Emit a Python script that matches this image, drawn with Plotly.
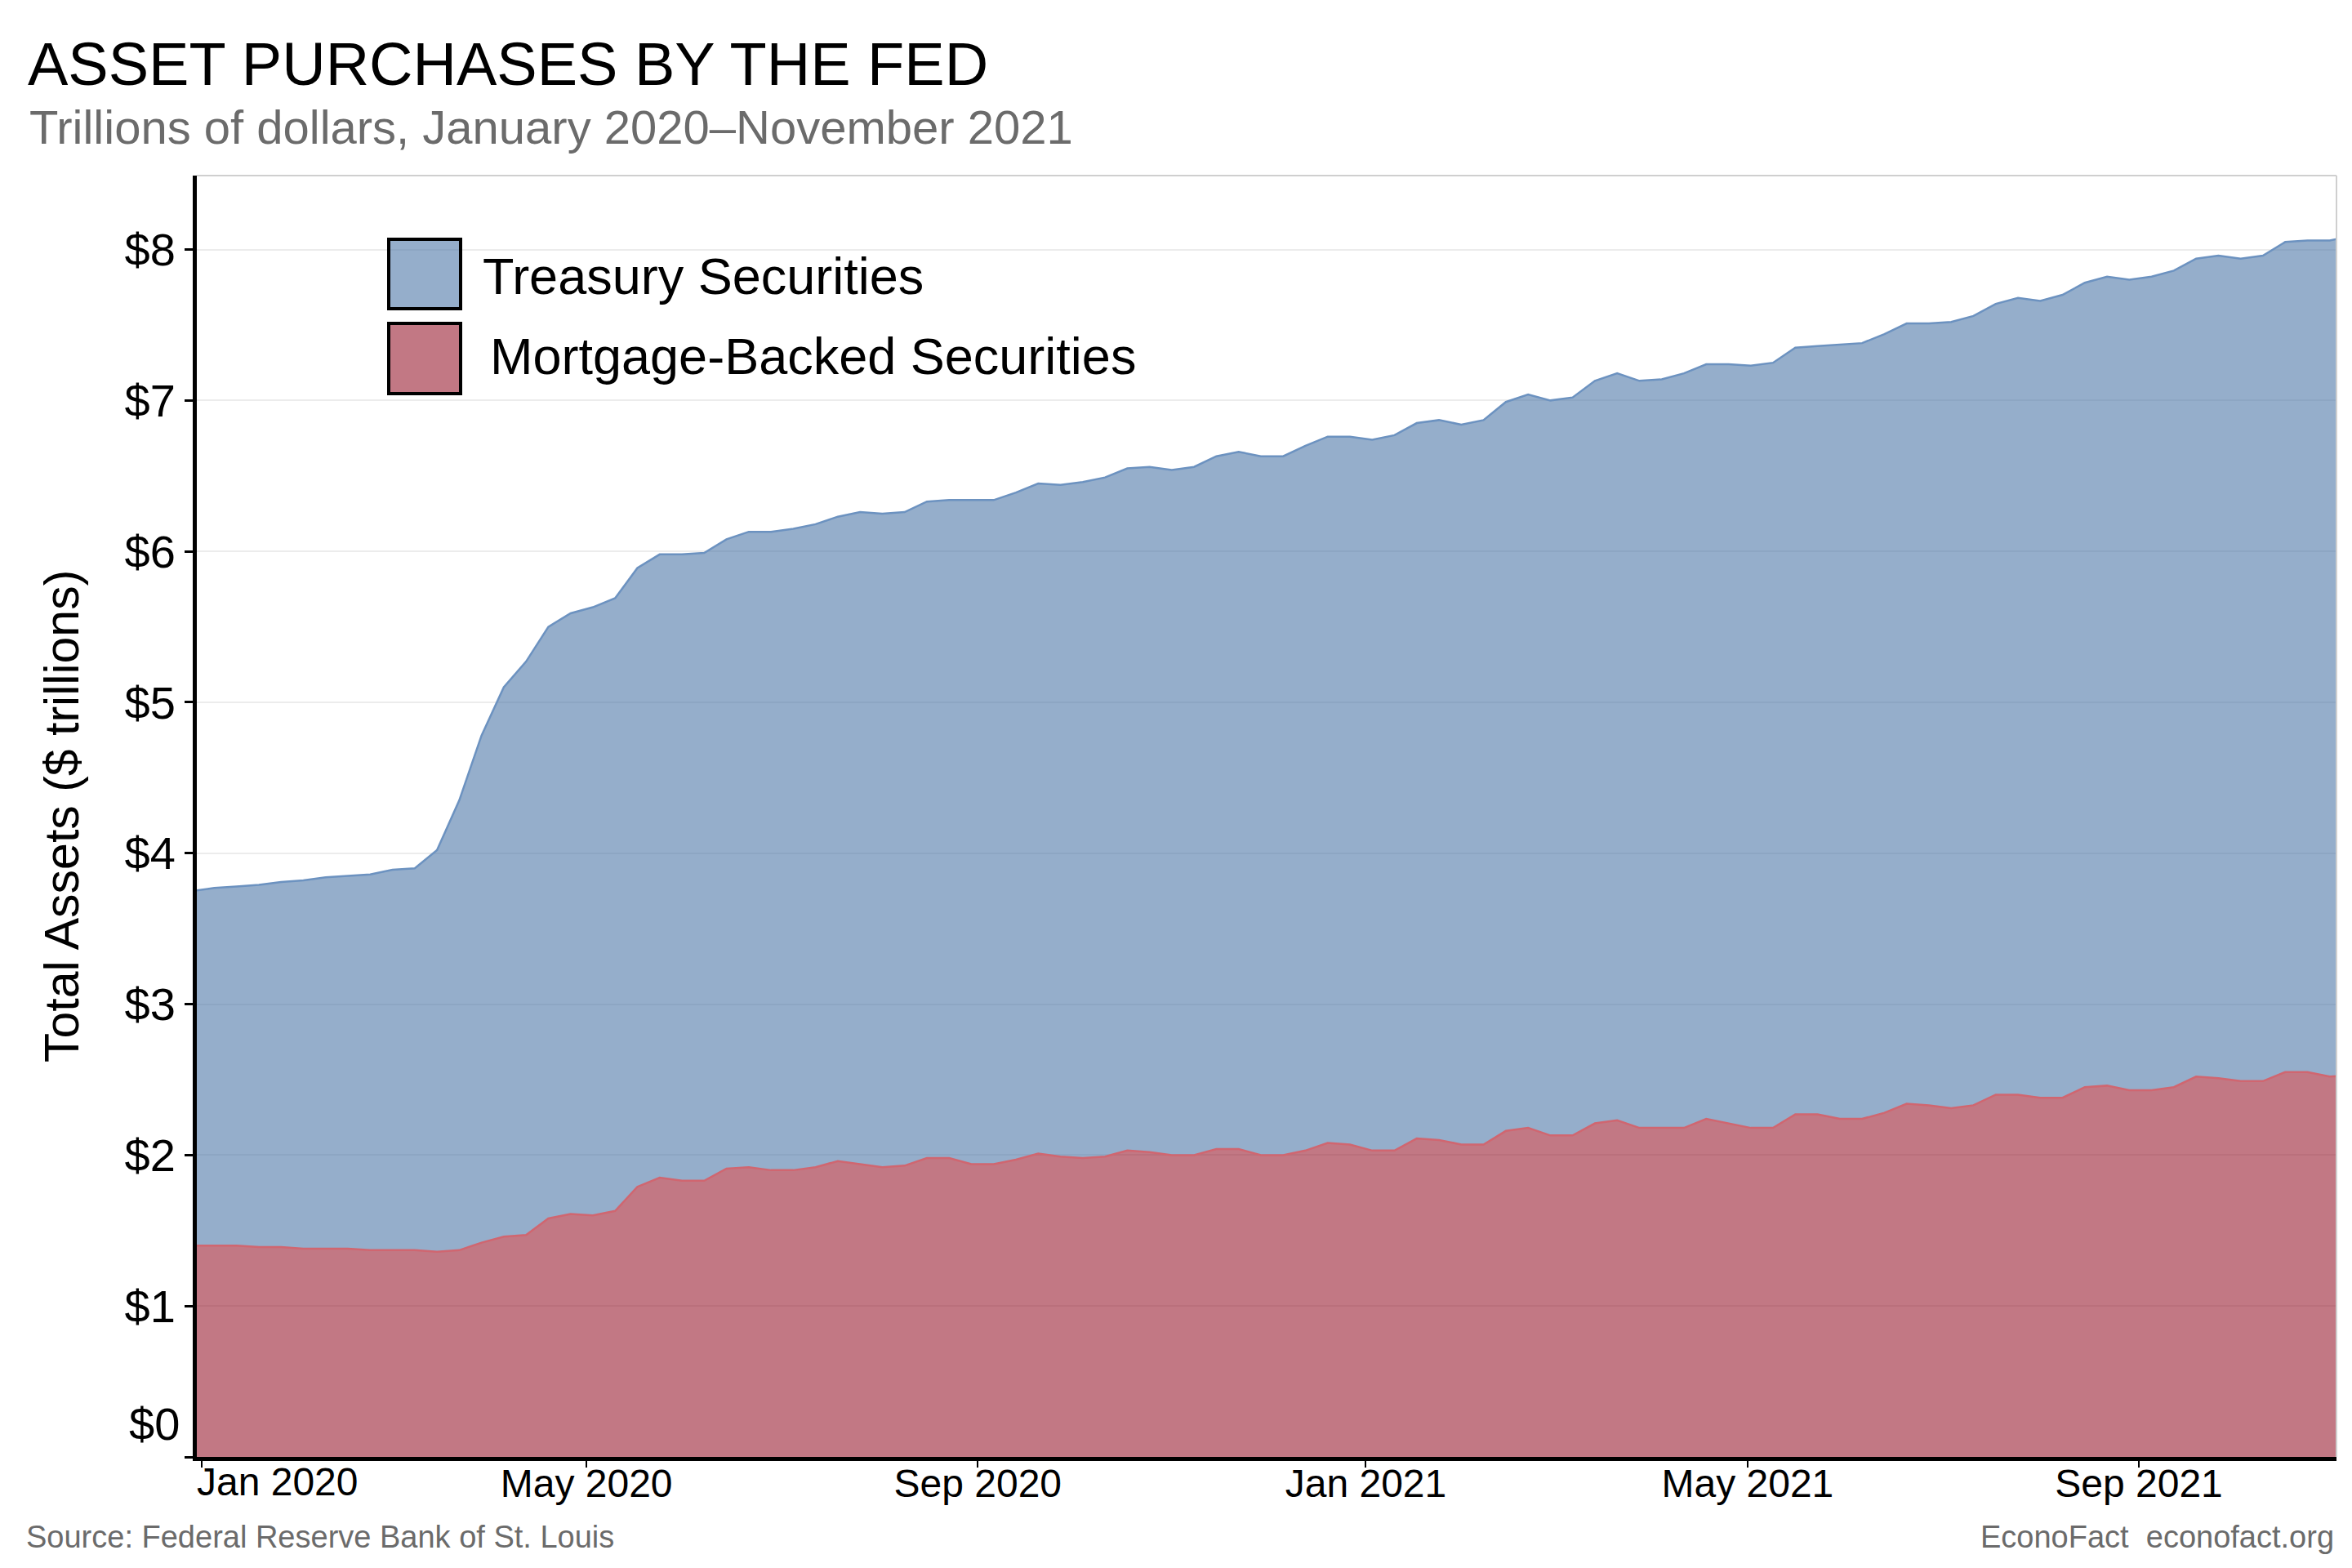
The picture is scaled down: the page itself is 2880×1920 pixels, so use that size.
import pandas as pd
import plotly.graph_objects as go

# weekly observations (first and last fall just outside the plotted window)
weeks = pd.date_range("2019-12-29", periods=98, freq="7D")

# $ trillions
mbs = [
    1.40, 1.40, 1.40, 1.39, 1.39, 1.38, 1.38, 1.38, 1.37, 1.37,
    1.37, 1.36, 1.37, 1.42, 1.46, 1.47, 1.58, 1.61, 1.60, 1.63,
    1.79, 1.85, 1.83, 1.83, 1.91, 1.92, 1.90, 1.90, 1.92, 1.96,
    1.94, 1.92, 1.93, 1.98, 1.98, 1.94, 1.94, 1.97, 2.01, 1.99,
    1.98, 1.99, 2.03, 2.02, 2.00, 2.00, 2.04, 2.04, 2.00, 2.00,
    2.03, 2.08, 2.07, 2.03, 2.03, 2.11, 2.10, 2.07, 2.07, 2.16,
    2.18, 2.13, 2.13, 2.21, 2.23, 2.18, 2.18, 2.18, 2.24, 2.21,
    2.18, 2.18, 2.27, 2.27, 2.24, 2.24, 2.28, 2.34, 2.33, 2.31,
    2.33, 2.40, 2.40, 2.38, 2.38, 2.45, 2.46, 2.43, 2.43, 2.45,
    2.52, 2.51, 2.49, 2.49, 2.55, 2.55, 2.52, 2.53,
]
treasury = [
    2.35, 2.37, 2.38, 2.40, 2.42, 2.44, 2.46, 2.47, 2.49, 2.52,
    2.53, 2.66, 2.98, 3.36, 3.64, 3.80, 3.92, 3.98, 4.03, 4.06,
    4.10, 4.13, 4.15, 4.16, 4.17, 4.21, 4.23, 4.25, 4.26, 4.27,
    4.32, 4.33, 4.33, 4.35, 4.36, 4.40, 4.40, 4.42, 4.44, 4.45,
    4.48, 4.50, 4.52, 4.54, 4.54, 4.56, 4.59, 4.62, 4.63, 4.63,
    4.67, 4.68, 4.69, 4.71, 4.74, 4.74, 4.77, 4.77, 4.80, 4.83,
    4.86, 4.87, 4.89, 4.92, 4.95, 4.95, 4.96, 5.00, 5.00, 5.03,
    5.05, 5.07, 5.08, 5.09, 5.13, 5.14, 5.16, 5.17, 5.18, 5.21,
    5.23, 5.24, 5.28, 5.28, 5.32, 5.33, 5.36, 5.37, 5.39, 5.41,
    5.42, 5.45, 5.45, 5.47, 5.50, 5.51, 5.54, 5.56,
]

y_ticks = [0, 1, 2, 3, 4, 5, 6, 7, 8]
y_tick_text = ["", "$1", "$2", "$3", "$4", "$5", "$6", "$7", "$8"]
x_ticks = ["2020-01-01", "2020-05-01", "2020-09-01", "2021-01-01", "2021-05-01", "2021-09-01"]
x_tick_text = ["", "May 2020", "Sep 2020", "Jan 2021", "May 2021", "Sep 2021"]

FONT = "Liberation Sans, Arial, Helvetica, sans-serif"
BLUE_FILL = "rgba(78,120,168,0.6)"
RED_FILL = "rgba(153,30,50,0.6)"

# plot area in page pixels, used to place the hand-made legend and labels
L, R, T, B = 233, 2853, 207, 1776


def px(x):
    return (x - L) / (R - L)


def py(y):
    return (B - y) / (B - T)


fig = go.Figure()
fig.add_trace(go.Scatter(
    x=weeks, y=mbs, name="Mortgage-Backed Securities", stackgroup="one",
    mode="lines", line=dict(color="rgb(208,102,112)", width=2.5),
    fillcolor=RED_FILL,
))
fig.add_trace(go.Scatter(
    x=weeks, y=treasury, name="Treasury Securities", stackgroup="one",
    mode="lines", line=dict(color="rgb(108,146,192)", width=2.5),
    fillcolor=BLUE_FILL,
))

fig.update_layout(
    width=2880, height=1920, autosize=False,
    margin=dict(l=L, r=2880 - R, t=T, b=1920 - B),
    paper_bgcolor="white", plot_bgcolor="white",
    font=dict(family=FONT, color="black"),
    showlegend=False,
)
fig.update_xaxes(
    type="date", range=["2019-12-30 12:00", "2021-11-02 03:00"],
    tickvals=x_ticks, ticktext=x_tick_text,
    tickfont=dict(size=48, color="black"), ticklabelstandoff=-22,
    showline=True, linecolor="black", linewidth=5,
    ticks="outside", ticklen=8, tickwidth=2, tickcolor="black",
    showgrid=False, zeroline=False,
)
fig.update_yaxes(
    range=[0, 8.49], tickvals=y_ticks, ticktext=y_tick_text,
    tickfont=dict(size=56, color="black"),
    showline=True, linecolor="black", linewidth=5,
    ticks="outside", ticklen=10, tickwidth=3, tickcolor="black",
    showgrid=True, gridcolor="#ececec", gridwidth=2, zeroline=False,
)

# light panel border on top and right
fig.add_shape(type="line", xref="paper", yref="paper", x0=0, x1=1, y0=1, y1=1,
              line=dict(color="#cfcfcf", width=2))
fig.add_shape(type="line", xref="paper", yref="paper", x0=1, x1=1, y0=0, y1=1,
              line=dict(color="#cfcfcf", width=2))

# legend keys
fig.add_shape(type="rect", xref="paper", yref="paper",
              x0=px(468), x1=px(556), y0=py(370), y1=py(285),
              fillcolor=BLUE_FILL, line=dict(color="black", width=4))
fig.add_shape(type="rect", xref="paper", yref="paper",
              x0=px(468), x1=px(556), y0=py(474), y1=py(388),
              fillcolor=RED_FILL, line=dict(color="black", width=4))

annotations = [
    dict(text="Treasury Securities", x=px(581), y=py(330), xanchor="left",
         yanchor="middle", font=dict(size=63, color="black")),
    dict(text="Mortgage-Backed Securities", x=px(590), y=py(428), xanchor="left",
         yanchor="middle", font=dict(size=63, color="black")),
    dict(text="ASSET PURCHASES BY THE FED", x=px(24), y=py(70), xanchor="left",
         yanchor="middle", font=dict(size=74, color="black")),
    dict(text="Trillions of dollars, January 2020\u2013November 2021", x=px(26),
         y=py(148), xanchor="left", yanchor="middle",
         font=dict(size=58, color="#6b6b6b")),
    dict(text="Total Assets ($ trillions)", x=px(68), y=py(992), textangle=-90,
         xanchor="center", yanchor="middle", font=dict(size=59, color="black")),
    dict(text="Source: Federal Reserve Bank of St. Louis", x=px(22), y=py(1874),
         xanchor="left", yanchor="middle", font=dict(size=38, color="#6b6b6b")),
    dict(text="EconoFact  econofact.org", x=px(2852), y=py(1874),
         xanchor="right", yanchor="middle", font=dict(size=38, color="#6b6b6b")),
    dict(text="$0", x=px(214), y=py(1735), xanchor="right", yanchor="middle",
         font=dict(size=56, color="black")),
]
for a in annotations:
    fig.add_annotation(xref="paper", yref="paper", showarrow=False, **a)

fig.add_annotation(text="Jan 2020", xref="x", yref="paper", x="2020-01-01",
                   y=py(1806), xanchor="left", yanchor="middle", showarrow=False,
                   xshift=-8, font=dict(size=48, color="black"))

fig.write_html("out.html")
